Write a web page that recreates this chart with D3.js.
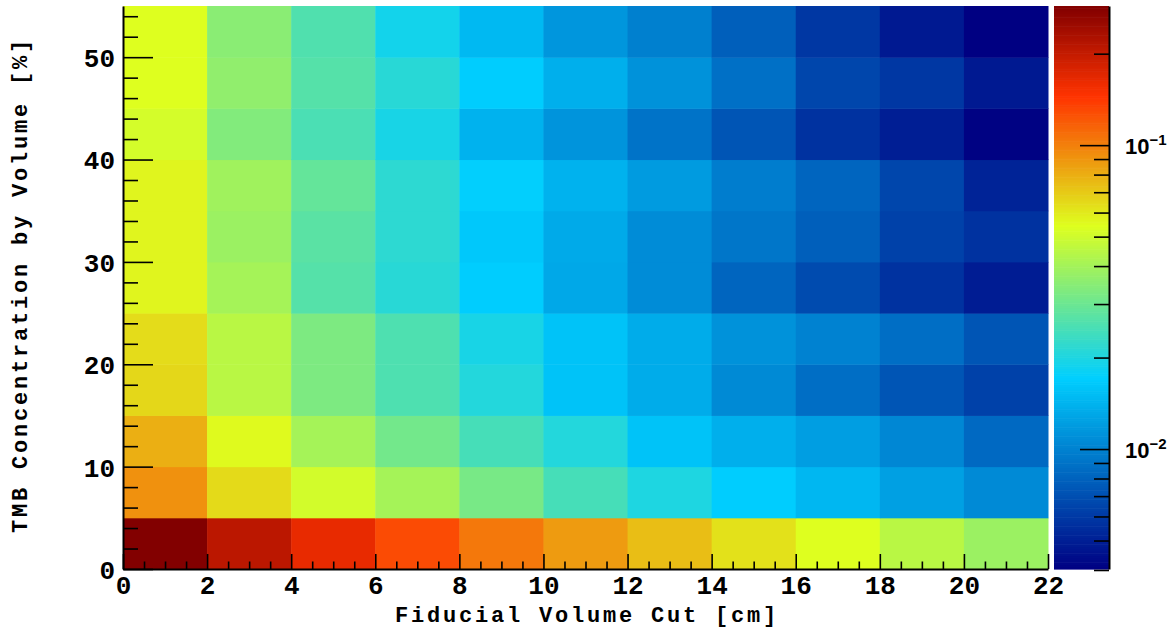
<!DOCTYPE html>
<html>
<head>
<meta charset="utf-8">
<script src="https://cdn.jsdelivr.net/npm/d3@7"></script>
<style>
	body { margin: 0; background: #fff; }
	.lbl { font-family: "Liberation Mono", "DejaVu Sans Mono", monospace; font-weight: bold; fill: #000; }
	.zlbl { font-family: "Liberation Sans", Arial, sans-serif; font-weight: bold; fill: #000; }
</style>
</head>
<body>
<div id="chart"></div>
<script>
		// bin edges
		var xEdges = [0, 2, 4, 6, 8, 10, 12, 14, 16, 18, 20, 22];
		var yEdges = [0, 5, 10, 15, 20, 25, 30, 35, 40, 45, 50, 55];

		// bin contents, one row per y bin (bottom row first)
		var row0  = [0.287, 0.210, 0.164, 0.129, 0.104, 0.0881, 0.0743, 0.0629, 0.0544, 0.0449, 0.0385];
		var row5  = [0.0923, 0.0651, 0.0512, 0.0405, 0.0320, 0.0247, 0.0201, 0.0170, 0.01455, 0.01238, 0.01062];
		var row10 = [0.0798, 0.0557, 0.0405, 0.0312, 0.0247, 0.0206, 0.01585, 0.01377, 0.01222, 0.01039, 0.00843];
		var row15 = [0.0659, 0.0449, 0.0329, 0.0258, 0.0206, 0.01585, 0.01348, 0.0106, 0.00872, 0.00732, 0.00636];
		var row20 = [0.0642, 0.0449, 0.0329, 0.0258, 0.0195, 0.01585, 0.01348, 0.01117, 0.01004, 0.00872, 0.00732];
		var row25 = [0.0570, 0.0405, 0.0267, 0.0212, 0.0170, 0.01311, 0.01075, 0.00815, 0.00681, 0.00572, 0.00490];
		var row30 = [0.0570, 0.0385, 0.0274, 0.0217, 0.0164, 0.0133, 0.01075, 0.00922, 0.00784, 0.00636, 0.00572];
		var row35 = [0.0570, 0.0395, 0.0289, 0.0217, 0.01734, 0.01406, 0.01196, 0.00970, 0.00815, 0.00658, 0.00516];
		var row40 = [0.0515, 0.0337, 0.0253, 0.0195, 0.01406, 0.01139, 0.00903, 0.00732, 0.00572, 0.00497, 0.00408];
		var row45 = [0.0544, 0.0365, 0.0267, 0.0212, 0.0170, 0.01377, 0.01117, 0.00884, 0.00658, 0.00593, 0.00480];
		var row50 = [0.0544, 0.0352, 0.0260, 0.0190, 0.01477, 0.01156, 0.0099, 0.00784, 0.00593, 0.00480, 0.00403];
		var rows = [row0, row5, row10, row15, row20, row25, row30, row35, row40, row45, row50];

		var xTicks = [0, 2, 4, 6, 8, 10, 12, 14, 16, 18, 20, 22];
		var yTicks = [0, 10, 20, 30, 40, 50];
		var zTicks = [0.01, 0.1];
		var zTickLabels = [["10", "\u22122"], ["10", "\u22121"]];
		var zMinorTicks = [0.004, 0.005, 0.006, 0.007, 0.008, 0.009, 0.02, 0.03, 0.04, 0.05, 0.06, 0.07, 0.08, 0.09, 0.2];
		var zRange = [0.00403, 0.287];

		var xTitle = "Fiducial Volume Cut [cm]";
		var yTitle = "TMB Concentration by Volume [%]";

		var width = 1174;
		var height = 633;

		var svg = d3.select("#chart")
					.append("svg")
					.attr("width", width)
					.attr("height", height);

		var x = d3.scaleLinear().domain([0, 22]).range([123, 1048]);
		var y = d3.scaleLinear().domain([0, 55]).range([569, 6]);

		// log z -> palette position
		var zPos = d3.scaleLog().domain(zRange).range([0, 1]).clamp(true);
		var palette = d3.scaleLinear()
			.domain([0, 0.34, 0.61, 0.84, 1])
			.range(["rgb(0,0,130)", "rgb(0,207,255)", "rgb(222,255,31)", "rgb(255,51,0)", "rgb(130,0,0)"]);

		function getColor(v){
			return palette(zPos(v));
		}

		var cells = [];
		rows.forEach(function(r, j){
			r.forEach(function(v, i){
				cells.push({x0: xEdges[i], x1: xEdges[i+1], y0: yEdges[j], y1: yEdges[j+1], v: v});
			});
		});

		svg.append("g").selectAll("rect")
			.data(cells)
			.enter()
			.append("rect")
			.attr("x", function(d){ return x(d.x0); })
			.attr("y", function(d){ return y(d.y1); })
			.attr("width", function(d){ return x(d.x1) - x(d.x0) + 0.5; })
			.attr("height", function(d){ return y(d.y0) - y(d.y1) + 0.5; })
			.attr("fill", function(d){ return getColor(d.v); });

		// y axis, ticks pointing inward
		var yAxis = svg.append("g")
			.attr("transform", "translate(123,0)")
			.call(d3.axisLeft(y).tickValues(yTicks).tickSizeInner(-30).tickSizeOuter(0).tickPadding(8).tickFormat(d3.format("d")));
		svg.append("g")
			.attr("transform", "translate(123,0)")
			.call(d3.axisLeft(y).tickValues(d3.range(0, 55, 2).filter(function(t){ return t % 10 != 0; })).tickSize(-15).tickFormat(""))
			.select(".domain").remove();

		var xAxis = svg.append("g")
			.attr("transform", "translate(0,569)")
			.call(d3.axisBottom(x).tickValues(xTicks).tickSizeInner(-15).tickSizeOuter(0).tickPadding(9).tickFormat(d3.format("d")));
		svg.append("g")
			.attr("transform", "translate(0,569)")
			.call(d3.axisBottom(x).tickValues(d3.range(0, 22, 0.5).filter(function(t){ return t % 2 != 0; })).tickSize(-7.5).tickFormat(""))
			.select(".domain").remove();

		svg.selectAll(".tick line").attr("stroke", "#000").attr("stroke-width", 1.6);
		svg.selectAll(".domain").attr("stroke", "#000").attr("stroke-width", 2);
		svg.selectAll(".tick text")
			.attr("class", "lbl")
			.attr("font-size", 26)
			.attr("font-family", null);
		yAxis.selectAll(".tick text").attr("dy", "0.36em");
		xAxis.selectAll(".tick text").attr("dy", "0.62em");

		// axis titles
		svg.append("text")
			.attr("class", "lbl")
			.attr("x", 587)
			.attr("y", 622)
			.attr("text-anchor", "middle")
			.attr("font-size", 22)
			.attr("letter-spacing", "2.8px")
			.text(xTitle);

		svg.append("text")
			.attr("class", "lbl")
			.attr("transform", "translate(27,285) rotate(-90)")
			.attr("text-anchor", "middle")
			.attr("font-size", 22)
			.attr("letter-spacing", "2.8px")
			.text(yTitle);

		// colour bar
		var zAxisScale = d3.scaleLog().domain(zRange).range([569, 6]);
		var steps = d3.range(0, 1, 1 / 250);
		svg.append("g").selectAll("rect")
			.data(steps)
			.enter()
			.append("rect")
			.attr("x", 1054)
			.attr("width", 55)
			.attr("y", function(t){ return 569 - (t + 1 / 250) * 563; })
			.attr("height", 563 / 250 + 0.6)
			.attr("fill", function(t){ return palette(t + 0.5 / 250); });

		var zAxis = svg.append("g")
			.attr("transform", "translate(1109,0)");
		zAxis.call(d3.axisRight(zAxisScale).tickValues(zTicks).tickSizeInner(-29).tickSizeOuter(0).tickFormat(""));
		zAxis.append("g")
			.call(d3.axisRight(zAxisScale).tickValues(zMinorTicks).tickSize(-15).tickFormat(""))
			.select(".domain").remove();
		zAxis.selectAll(".tick line").attr("stroke", "#000").attr("stroke-width", 1.6);
		zAxis.selectAll(".domain").attr("stroke", "#000").attr("stroke-width", 2);

		zTicks.forEach(function(t, i){
			var lab = svg.append("text")
				.attr("class", "zlbl")
				.attr("x", 1125)
				.attr("y", zAxisScale(t) + 9)
				.attr("font-size", 22);
			lab.append("tspan").text(zTickLabels[i][0]);
			lab.append("tspan")
				.attr("font-size", 15)
				.attr("dy", -9)
				.text(zTickLabels[i][1]);
		});
</script>
</body>
</html>
